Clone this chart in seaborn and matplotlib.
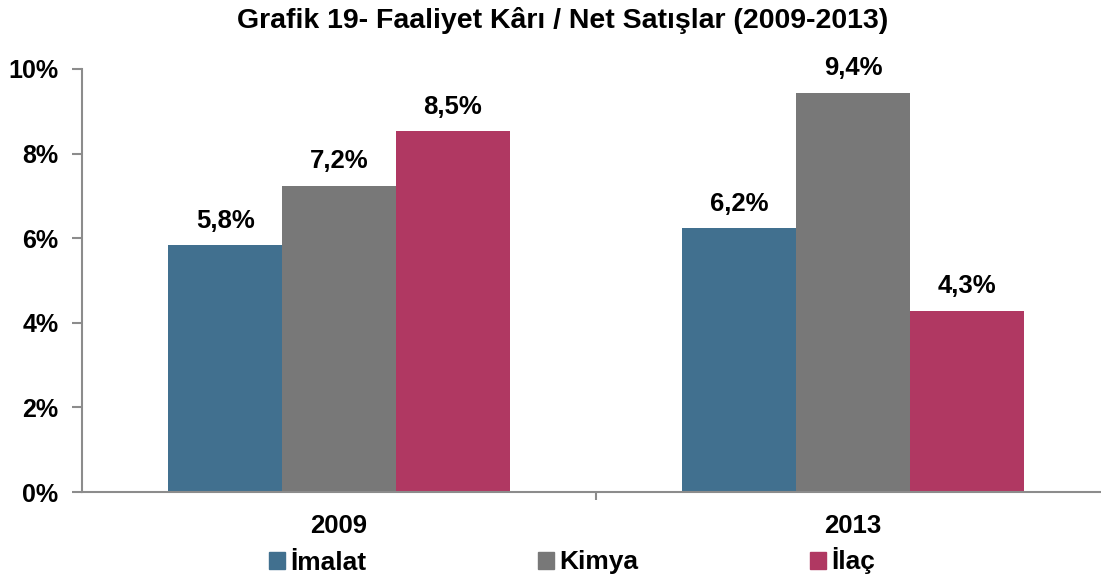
import seaborn as sns
import matplotlib.pyplot as plt
import pandas as pd
from matplotlib.ticker import FuncFormatter

# Veriler
yillar = ['2009', '2013']
sektorler = ['İmalat', 'Kimya', 'İlaç']
imalat = [5.83, 6.24]
kimya = [7.24, 9.44]
ilac = [8.53, 4.28]
renkler = ['#41708F', '#787878', '#B03862']

df = pd.DataFrame({
    'yil': yillar * 3,
    'sektor': [s for s in sektorler for _ in yillar],
    'deger': imalat + kimya + ilac,
})

sns.set_style('white')
plt.rcParams['font.family'] = ['Liberation Sans', 'DejaVu Sans']
plt.rcParams['text.color'] = 'black'
plt.rcParams['xtick.color'] = 'black'
plt.rcParams['ytick.color'] = 'black'

fig = plt.figure(figsize=(11.01, 5.78), dpi=100)
ax = fig.add_axes([82 / 1101, 86 / 578, 1 - 82 / 1101, (492 - 69) / 578])

sns.barplot(data=df, x='yil', y='deger', hue='sektor',
            palette=renkler, width=0.665, gap=0, ax=ax, legend=True,
            saturation=1, linewidth=0)

ax.set_ylim(0, 10)
ax.set_xlim(-0.5, 1.5 - 9 / 514)
ax.set_yticks([0, 2, 4, 6, 8, 10])
ax.yaxis.set_major_formatter(FuncFormatter(lambda v, p: f'{v:.0f}%'))
ax.set_xlabel('')
ax.set_ylabel('')

gri = '#8C8C8C'
for s in ['top', 'right']:
    ax.spines[s].set_visible(False)
for s in ['left', 'bottom']:
    ax.spines[s].set_color(gri)
    ax.spines[s].set_linewidth(1.5)

ax.tick_params(axis='y', left=True, length=7, width=1.5, color=gri,
               labelsize=18, pad=10, labelcolor='black')
for t in ax.get_yticklabels():
    t.set_fontweight('bold')
ax.tick_params(axis='x', bottom=False, labelsize=18.5, pad=12, labelcolor='black')
for t in ax.get_xticklabels():
    t.set_fontweight('bold')
ax.set_xticks([0.5], minor=True)
ax.tick_params(axis='x', which='minor', bottom=True, length=6, width=1.5,
               color=gri)

# Çubuk etiketleri
for cont in ax.containers:
    ax.bar_label(cont, labels=[f'{v:.1f}%'.replace('.', ',') for v in cont.datavalues],
                 padding=9, fontsize=18.5, fontweight='bold', color='black')

ax.legend_.remove()
h = [plt.Rectangle((0, 0), 1, 1, color=c) for c in renkler]
leg = fig.legend(h, sektorler, loc='center', bbox_to_anchor=(572 / 1101, 1 - 561 / 578),
                 ncol=3, frameon=False, handlelength=0.6, handleheight=0.6,
                 handletextpad=0.2, columnspacing=6.5,
                 prop={'size': 19, 'weight': 'bold'})

fig.text(563 / 1101, 1 - 20 / 578, 'Grafik 19- Faaliyet Kârı / Net Satışlar (2009-2013)',
         ha='center', va='center', fontsize=20.5, fontweight='bold', color='black')

fig.savefig('out.png', dpi=100)
